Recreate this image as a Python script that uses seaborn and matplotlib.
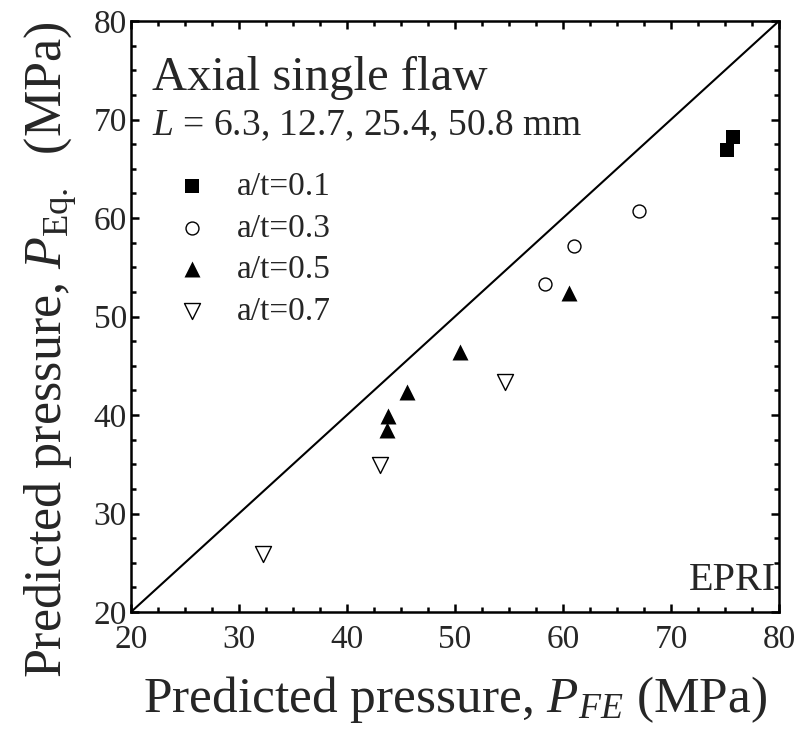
import matplotlib
matplotlib.use("Agg")
import matplotlib.pyplot as plt
import seaborn as sns
import numpy as np

# ---- data ----
x_01 = [75.2, 75.7]
y_01 = [66.9, 68.2]
x_03 = [58.3, 61.0, 67.0]
y_03 = [53.3, 57.2, 60.7]
x_05 = [43.7, 43.8, 45.6, 50.5, 60.6]
y_05 = [38.5, 39.9, 42.3, 46.4, 52.4]
x_07 = [32.2, 43.1, 54.6]
y_07 = [25.9, 34.9, 43.4]
labels = ["a/t=0.1", "a/t=0.3", "a/t=0.5", "a/t=0.7"]
ref_line = [20, 80]
ticks = [20, 30, 40, 50, 60, 70, 80]

sns.set_style("ticks")
plt.rcParams["font.family"] = ["Liberation Serif", "DejaVu Serif"]
plt.rcParams["mathtext.fontset"] = "custom"
plt.rcParams["mathtext.rm"] = "Liberation Serif"
plt.rcParams["mathtext.it"] = "Liberation Serif:italic"

fig = plt.figure(figsize=(8.08, 7.31), dpi=100)
ax = fig.add_axes([131/808, 1-612/731, 648/808, 591/731])

ax.plot(ref_line, ref_line, color="black", lw=1.5, zorder=1)

sns.scatterplot(x=x_01, y=y_01, marker="s", s=9.5**2, color="black",
                edgecolor="black", linewidth=0, label=labels[0], ax=ax, zorder=3)
sns.scatterplot(x=x_03, y=y_03, marker="o", s=9.3**2, facecolor="white",
                edgecolor="black", linewidth=1.0, label=labels[1], ax=ax, zorder=3)
sns.scatterplot(x=x_05, y=y_05, marker="^", s=11.5**2, color="black",
                edgecolor="black", linewidth=0, label=labels[2], ax=ax, zorder=3)
sns.scatterplot(x=x_07, y=y_07, marker="v", s=11.5**2, facecolor="white",
                edgecolor="black", linewidth=1.0, label=labels[3], ax=ax, zorder=3)

ax.set_xlim(20, 80)
ax.set_ylim(20, 80)
ax.set_xticks(ticks)
ax.set_yticks(ticks)
ax.xaxis.set_minor_locator(matplotlib.ticker.MultipleLocator(2.5))
ax.yaxis.set_minor_locator(matplotlib.ticker.MultipleLocator(2.5))
ax.tick_params(which="both", direction="in", top=True, right=True, width=1.8, color="black")
ax.tick_params(which="major", length=6, labelsize=24)
ax.tick_params(axis="x", which="major", pad=9)
ax.tick_params(axis="y", which="major", pad=3)
ax.tick_params(which="minor", length=3.5)
for sp in ax.spines.values():
    sp.set_linewidth(1.8)
    sp.set_color("black")

ax.set_xlabel(r"Predicted pressure, $P_{FE}$ (MPa)", fontsize=37, labelpad=14)
ax.set_ylabel(r"Predicted pressure, $P_{\mathrm{Eq.}}$  (MPa)", fontsize=37.5)
ax.yaxis.set_label_coords(-0.081, 0.443)

ax.text(0.032, 0.883, "Axial single flaw", transform=ax.transAxes, fontsize=35,
        ha="left", va="baseline")
ax.text(0.032, 0.807, r"$L$ = 6.3, 12.7, 25.4, 50.8 mm", transform=ax.transAxes,
        fontsize=27, ha="left", va="baseline")
ax.text(0.995, 0.037, "EPRI", transform=ax.transAxes, fontsize=29,
        ha="right", va="baseline")

ax.legend(loc="upper left", bbox_to_anchor=(0.068, 0.745), frameon=False,
          fontsize=24, handlelength=1.0, handletextpad=0.85, labelspacing=0.33,
          borderpad=0, borderaxespad=0)

fig.savefig("out.png", dpi=100)
